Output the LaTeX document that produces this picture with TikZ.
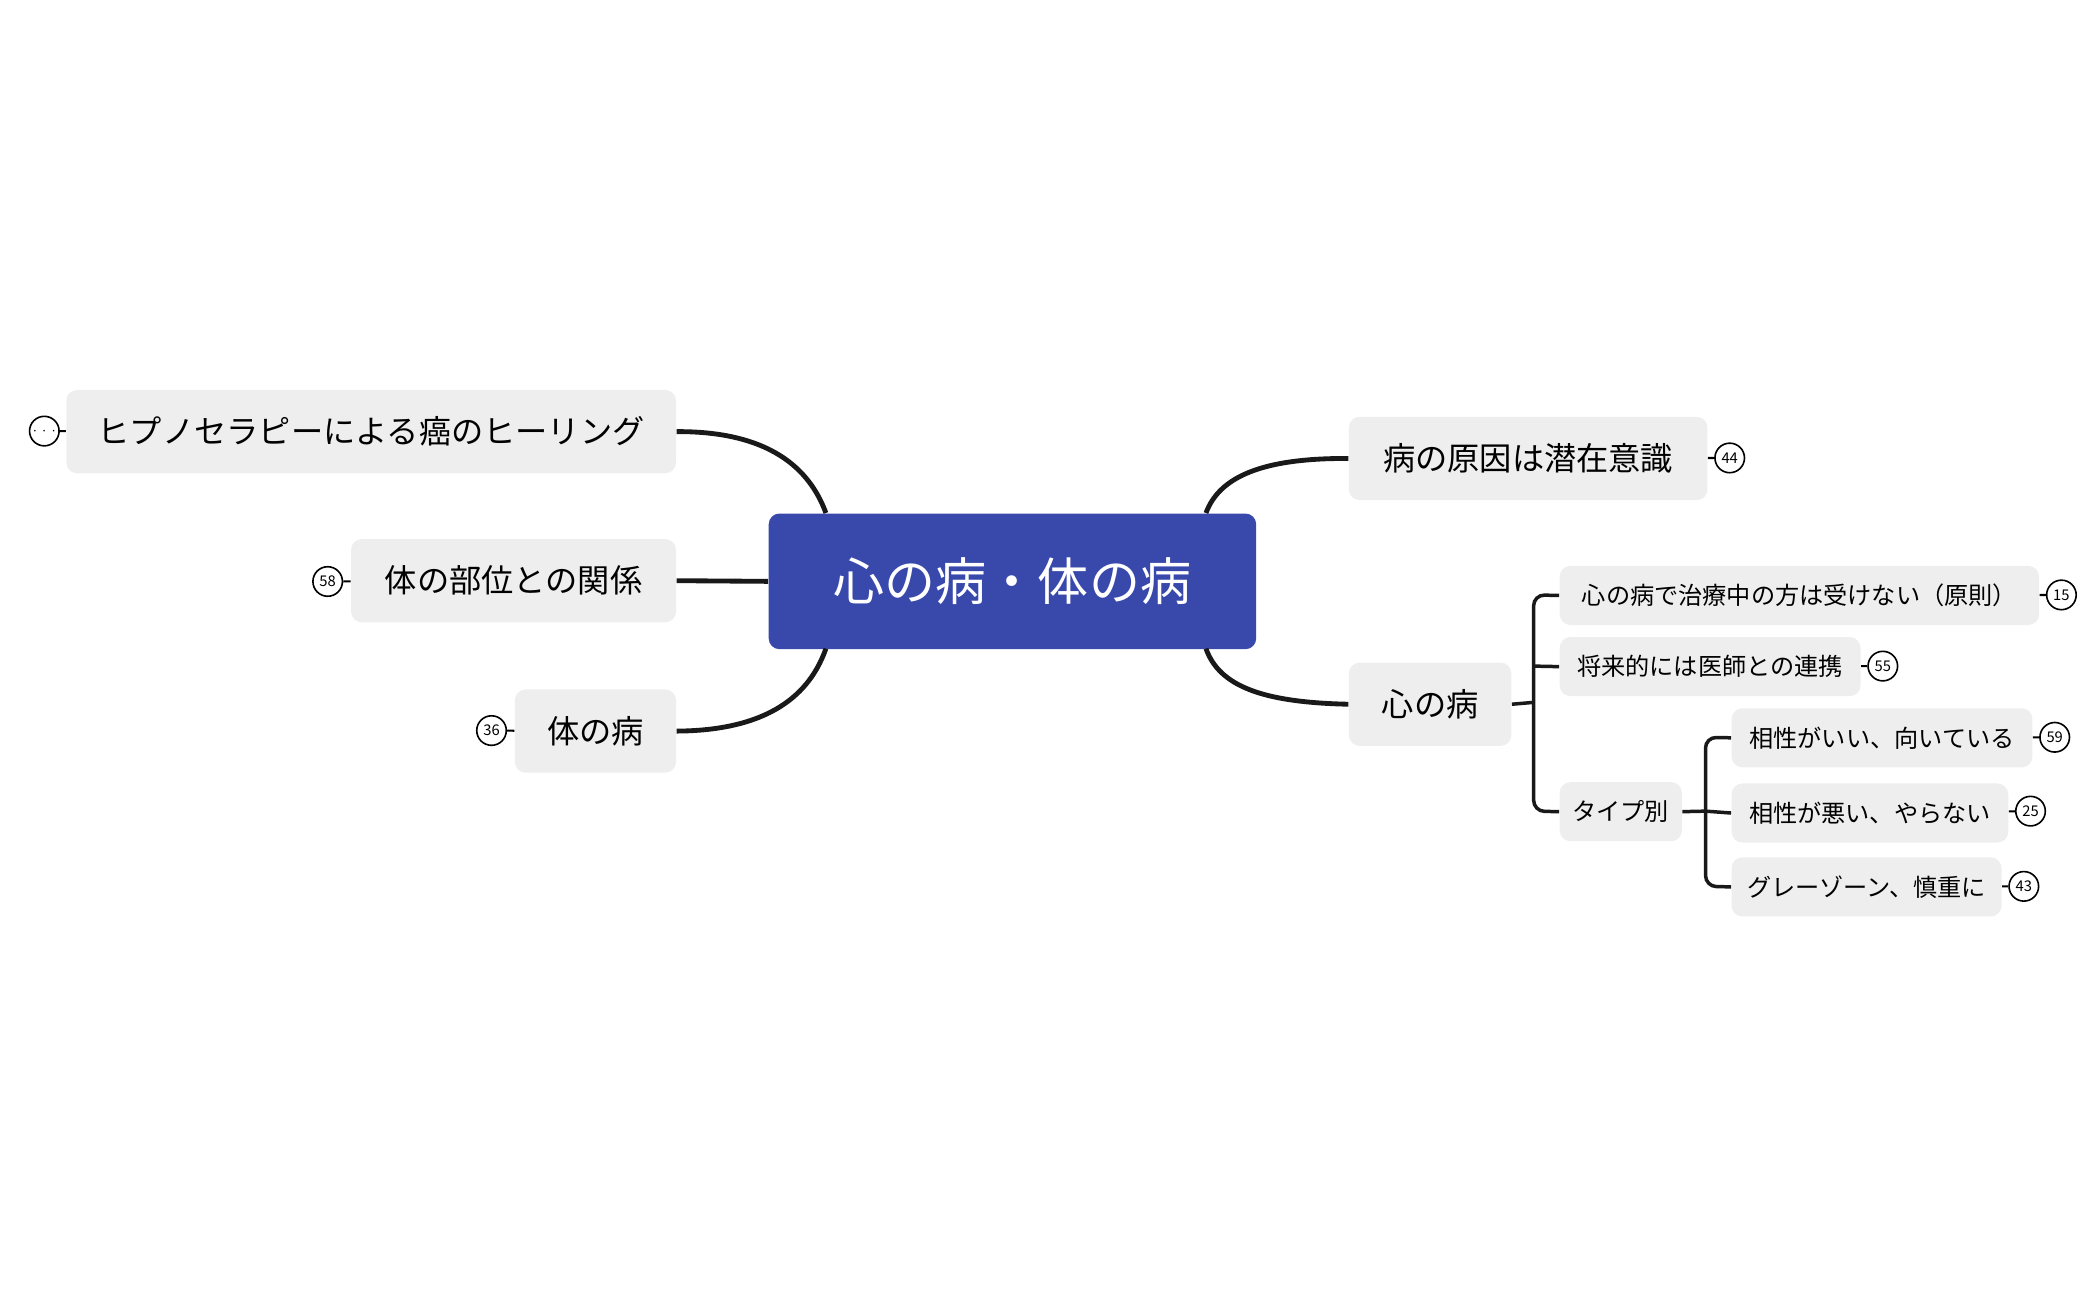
\documentclass[tikz,border=0pt]{standalone}
\usepackage{fontspec}
\setmainfont{Noto Sans CJK JP}
\begin{document}
\begin{tikzpicture}[x=0.5pt,y=-0.5pt,
 box/.style={fill=boxgray,rounded corners=4pt,inner sep=0pt,anchor=north west,font=\fontsize{12}{14}\selectfont},
 sbox/.style={fill=boxgray,rounded corners=4pt,inner sep=0pt,anchor=north west,font=\fontsize{9}{11}\selectfont},
 badge/.style={draw,circle,line width=0.6pt,minimum size=11pt,inner sep=0pt,font=\fontsize{5.5}{6}\selectfont},
 conn/.style={line width=1.8pt,draw=black!90},
 tconn/.style={line width=1.3pt,draw=black!90,rounded corners=4pt},
 bl/.style={line width=0.8pt}]
\definecolor{boxgray}{HTML}{EEEEEE}
\definecolor{mainblue}{HTML}{3949AB}
\useasboundingbox (0,0) rectangle (1560,968);
% central
\node[fill=mainblue,rounded corners=4pt,anchor=north west,minimum width=181.5pt,minimum height=50.5pt,text=white,font=\fontsize{19}{22}\selectfont] (c) at (572,382) {心の病・体の病};
% left
\node[box,minimum width=227pt,minimum height=31pt] (l1) at (49,290) {ヒプノセラピーによる癌のヒーリング};
\node[box,minimum width=121pt,minimum height=31pt] (l2) at (261,401) {体の部位との関係};
\node[box,minimum width=60pt,minimum height=31pt] (l3) at (383,513) {体の病};
\node[badge] (b0) at (33,321) {$\cdots$};
\node[badge] (b58) at (244,433) {58};
\node[badge] (b36) at (366,544) {36};
\draw[bl] (b0) -- (l1);
\draw[bl] (b58) -- (l2);
\draw[bl] (b36) -- (l3);
% right
\node[box,minimum width=133.5pt,minimum height=31pt] (r1) at (1004,310) {病の原因は潜在意識};
\node[box,minimum width=60.5pt,minimum height=31pt] (r2) at (1004,493) {心の病};
\node[badge] (b44) at (1288,341) {44};
\draw[bl] (r1) -- (b44);
% sub
\node[sbox,minimum width=178.5pt,minimum height=22pt] (s1) at (1161,421) {心の病で治療中の方は受けない（原則）};
\node[sbox,minimum width=112pt,minimum height=22pt] (s2) at (1161,474) {将来的には医師との連携};
\node[sbox,minimum width=45.5pt,minimum height=22pt] (s3) at (1161,582) {タイプ別};
\node[sbox,minimum width=112pt,minimum height=22pt] (t1) at (1289,527) {相性がいい、向いている};
\node[sbox,minimum width=103pt,minimum height=22pt] (t2) at (1289,583) {相性が悪い、やらない};
\node[sbox,minimum width=100.5pt,minimum height=22pt] (t3) at (1289,638) {グレーゾーン、慎重に};
\node[badge] (b15) at (1535,443) {15};
\node[badge] (b55) at (1402,496) {55};
\node[badge] (b59) at (1530,549) {59};
\node[badge] (b25) at (1512,604) {25};
\node[badge] (b43) at (1507,660) {43};
\foreach \a/\b in {s1/b15,s2/b55,t1/b59,t2/b25,t3/b43} \draw[bl] (\a) -- (\b);
% main connectors
\coordinate (cl1) at (615,382);
\coordinate (cl3) at (615,483);
\coordinate (cr1) at (898,382);
\coordinate (cr2) at (898,483);
\draw[conn] (l1.east) .. controls (580,321) and (605,355) .. (cl1);
\draw[conn] (l2.east) -- (c.west);
\draw[conn] (l3.east) .. controls (580,544) and (605,511) .. (cl3);
\draw[conn] (r1.west) .. controls (940,341) and (908,355) .. (cr1);
\draw[conn] (r2.west) .. controls (940,523) and (908,511) .. (cr2);
% tree
\draw[tconn] (r2.east) -- (1142,523);
\draw[tconn] (s1.west) -- (1142,443) -- (1142,604) -- (s3.west);
\draw[tconn] (1142,496) -- (s2.west);
\draw[tconn] (s3.east) -- (1270,604);
\draw[tconn] (t1.west) -- (1270,549) -- (1270,660) -- (t3.west);
\draw[tconn] (1270,604) -- (t2.west);
\end{tikzpicture}
\end{document}
